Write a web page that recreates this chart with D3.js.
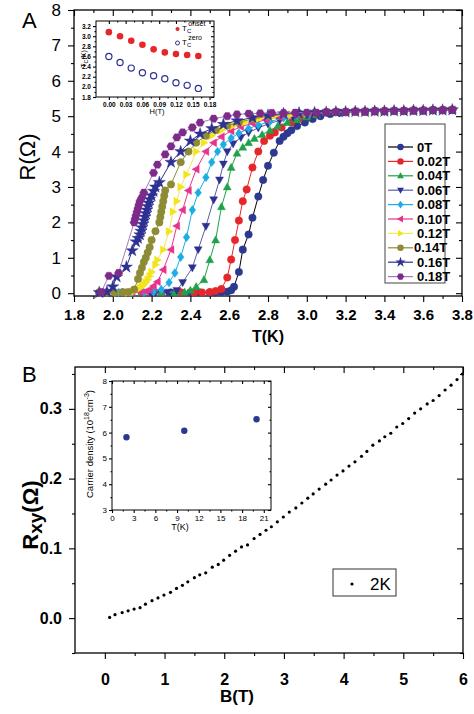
<!DOCTYPE html>
<html><head><meta charset="utf-8">
<script src="https://cdn.jsdelivr.net/npm/d3@7"></script>
<style>body{margin:0;background:#fff} svg{display:block} text{font-family:"Liberation Sans",Arial,Helvetica,sans-serif}</style>
</head><body><svg id="c" width="474" height="714"></svg>
<script>
// ---------- Panel A data ----------
const fieldLabels = ["0T","0.02T","0.04T","0.06T","0.08T","0.10T","0.12T","0.14T","0.16T","0.18T"];
const markerColors = ["#2b3990","#e5262b","#1fa149","#2e3192","#1cade4","#e6338d","#f4e41c","#8d8b35","#2e3192","#7d2b8b"];
const lineColors = ["#000000","#e5262b","#1fa149","#5a5fa8","#1cade4","#e6338d","#f2e65a","#8d8b35","#2e3192","#a57ab8"];
const shapes = ["circle","circle","up","down","diamond","left","right","circle","star","hexagon"];
const xTicksA = [1.8,2.0,2.2,2.4,2.6,2.8,3.0,3.2,3.4,3.6,3.8];
const yTicksA = [0,1,2,3,4,5,6,7,8];

const r00 = [[1.93,0.02],[2.05,0.02],[2.2,0.02],[2.3,0.02],[2.35,0.02],[2.40,0.02],[2.45,0.02],[2.50,0.02],[2.53,0.02],[2.56,0.03],[2.59,0.04],[2.61,0.08],[2.625,0.18],[2.65,0.6],[2.67,1.23],[2.70,1.66],[2.72,2.13],[2.75,2.73],[2.775,3.2],[2.80,3.6],[2.83,3.97],[2.86,4.3],[2.88,4.42],[2.90,4.52],[2.92,4.6],[2.95,4.72],[2.99,4.82],[3.03,4.92],[3.07,5.0],[3.12,5.06],[3.17,5.1]];
const r02 = [[1.95,0.02],[2.05,0.02],[2.15,0.02],[2.25,0.02],[2.35,0.02],[2.42,0.02],[2.46,0.02],[2.50,0.03],[2.53,0.06],[2.56,0.12],[2.59,0.44],[2.61,0.95],[2.63,1.5],[2.65,2.05],[2.67,2.6],[2.69,2.93],[2.72,3.55],[2.75,4.0],[2.78,4.3],[2.81,4.45],[2.835,4.54],[2.87,4.68],[2.92,4.82],[2.96,4.92],[3.0,5.0],[3.05,5.05]];
const r04 = [[1.95,0.02],[2.05,0.02],[2.15,0.02],[2.25,0.02],[2.32,0.02],[2.37,0.03],[2.40,0.08],[2.43,0.18],[2.47,0.38],[2.50,0.94],[2.53,1.5],[2.56,2.44],[2.59,3.0],[2.61,3.55],[2.64,3.95],[2.67,4.12],[2.70,4.25],[2.73,4.37],[2.77,4.48],[2.81,4.6],[2.85,4.72],[2.90,4.82],[2.95,4.9],[3.0,4.98],[3.05,5.04]];
const r06 = [[1.95,0.02],[2.05,0.02],[2.15,0.02],[2.22,0.02],[2.28,0.03],[2.33,0.08],[2.36,0.3],[2.41,0.72],[2.44,1.23],[2.48,1.89],[2.52,2.64],[2.55,3.2],[2.57,3.65],[2.59,4.0],[2.62,4.22],[2.66,4.4],[2.70,4.54],[2.75,4.67],[2.80,4.78],[2.86,4.88],[2.93,4.97],[3.0,5.03],[3.06,5.07]];
const r08 = [[1.95,0.02],[2.03,0.02],[2.10,0.02],[2.16,0.02],[2.21,0.04],[2.25,0.1],[2.29,0.3],[2.32,0.57],[2.35,1.02],[2.38,1.58],[2.41,2.35],[2.44,2.84],[2.48,3.27],[2.51,3.7],[2.54,4.0],[2.57,4.2],[2.61,4.38],[2.65,4.52],[2.70,4.65],[2.75,4.75],[2.81,4.85],[2.88,4.95],[2.95,5.02],[3.02,5.07]];
const r10 = [[1.95,0.02],[2.00,0.02],[2.05,0.02],[2.10,0.02],[2.14,0.03],[2.17,0.05],[2.19,0.1],[2.21,0.2],[2.23,0.32],[2.26,0.66],[2.30,1.23],[2.33,1.9],[2.36,2.35],[2.39,2.9],[2.43,3.5],[2.48,4.0],[2.52,4.25],[2.56,4.42],[2.61,4.58],[2.66,4.7],[2.72,4.8],[2.79,4.9],[2.86,4.98],[2.94,5.05],[3.02,5.08]];
const r12 = [[1.95,0.02],[2.02,0.02],[2.08,0.02],[2.10,0.03],[2.11,0.05],[2.12,0.08],[2.13,0.11],[2.14,0.15],[2.15,0.19],[2.16,0.24],[2.17,0.3],[2.18,0.38],[2.19,0.48],[2.20,0.6],[2.22,0.8],[2.23,0.94],[2.26,1.23],[2.29,1.74],[2.31,2.3],[2.33,2.6],[2.35,3.0],[2.38,3.35],[2.43,4.0],[2.47,4.25],[2.51,4.45],[2.56,4.6],[2.62,4.73],[2.68,4.83],[2.75,4.92],[2.83,5.0],[2.92,5.05],[3.0,5.08]];
const r14 = [[1.93,0.02],[1.97,0.02],[2.01,0.02],[2.05,0.02],[2.08,0.03],[2.11,0.1],[2.13,0.4],[2.14,0.57],[2.15,0.72],[2.16,0.88],[2.17,1.0],[2.18,1.15],[2.19,1.3],[2.20,1.5],[2.22,1.75],[2.24,2.0],[2.245,2.15],[2.25,2.3],[2.255,2.45],[2.26,2.6],[2.265,2.75],[2.27,2.9],[2.30,3.07],[2.35,3.7],[2.39,4.0],[2.43,4.25],[2.48,4.45],[2.53,4.6],[2.59,4.73],[2.65,4.83],[2.72,4.92],[2.80,5.0],[2.88,5.05],[2.96,5.08],[3.04,5.1]];
const r16 = [[1.93,0.02],[1.97,0.04],[2.00,0.18],[2.02,0.46],[2.07,0.74],[2.10,1.2],[2.12,1.45],[2.13,1.55],[2.14,1.65],[2.145,1.75],[2.15,1.85],[2.155,1.95],[2.16,2.05],[2.165,2.15],[2.17,2.25],[2.175,2.35],[2.18,2.45],[2.185,2.55],[2.19,2.65],[2.20,2.75],[2.21,2.88],[2.22,3.0],[2.24,3.13],[2.30,3.7],[2.35,4.0],[2.40,4.3],[2.45,4.5],[2.51,4.65],[2.57,4.77],[2.64,4.87],[2.72,4.96],[2.80,5.03],[2.88,5.07],[2.96,5.09],[3.04,5.1]];
const r18 = [[1.94,0.03],[1.98,0.49],[2.03,0.57],[2.11,2.0],[2.115,2.1],[2.12,2.2],[2.125,2.3],[2.13,2.4],[2.135,2.5],[2.14,2.6],[2.15,2.7],[2.16,2.84],[2.21,3.4],[2.23,3.63],[2.27,3.92],[2.30,4.15],[2.33,4.4],[2.36,4.54],[2.41,4.68],[2.45,4.82],[2.52,4.93],[2.59,5.0],[2.64,5.05],[2.70,5.07],[2.76,5.08],[2.82,5.09],[2.88,5.09],[2.94,5.1],[3.0,5.1],[3.05,5.1]];
const plateau = [[3.10,5.11],[3.15,5.12],[3.20,5.12],[3.25,5.13],[3.30,5.13],[3.35,5.14],[3.40,5.14],[3.45,5.15],[3.50,5.15],[3.55,5.16],[3.60,5.16],[3.65,5.17],[3.70,5.17],[3.75,5.18]];

// inset A
const hField = [0.00,0.02,0.04,0.06,0.08,0.10,0.12,0.14,0.16];
const tcOnset = [3.08,3.00,2.91,2.83,2.74,2.68,2.65,2.63,2.61];
const tcZero = [2.60,2.48,2.37,2.28,2.22,2.16,2.08,2.03,1.97];
const insetAxTicks = [0.00,0.03,0.06,0.09,0.12,0.15,0.18];
const insetAyTicks = [1.8,2.0,2.2,2.4,2.6,2.8,3.0,3.2];

// ---------- Panel B data ----------
const bField = [0.08,0.17,0.29,0.39,0.49,0.59,0.68,0.79,0.89,0.99,1.1,1.2,1.3,1.39,1.5,1.59,1.69,1.80,1.9,1.99,2.09,2.19,2.29,2.39,2.5,2.6,2.7,2.79,2.89,2.99,3.09,3.2,3.3,3.4,3.49,3.59,3.7,3.79,3.89,3.99,4.09,4.19,4.3,4.39,4.49,4.6,4.69,4.79,4.89,4.99,5.09,5.19,5.29,5.4,5.5,5.6,5.7,5.8,5.9,5.99];
const rxy = [0.001,0.005,0.008,0.0105,0.013,0.015,0.02,0.025,0.029,0.033,0.037,0.0426,0.047,0.052,0.058,0.062,0.065,0.073,0.077,0.083,0.09,0.096,0.102,0.105,0.114,0.12,0.126,0.131,0.138,0.145,0.152,0.158,0.165,0.172,0.178,0.185,0.192,0.198,0.205,0.211,0.218,0.224,0.232,0.239,0.248,0.254,0.26,0.265,0.274,0.279,0.286,0.294,0.30,0.307,0.312,0.319,0.327,0.334,0.342,0.350];
const xTicksB = [0,1,2,3,4,5,6];
const yTicksB = [0.0,0.1,0.2,0.3];
const carrierT = [2,10,20];
const carrierN = [5.82,6.07,6.52];
const insetBxTicks = [0,3,6,9,12,15,18,21];
const insetByTicks = [3,4,5,6,7,8];

// ---------- helpers ----------
const svg = d3.select("#c");
function symPath(shape, s){
  const P = pts => "M" + pts.map(p=>p[0].toFixed(2)+","+p[1].toFixed(2)).join("L") + "Z";
  switch(shape){
    case "circle": return d3.symbol(d3.symbolCircle, Math.PI*s*s*0.8)();
    case "up": return P([[0,-s],[s*0.95,s*0.7],[-s*0.95,s*0.7]]);
    case "down": return P([[0,s],[s*0.95,-s*0.7],[-s*0.95,-s*0.7]]);
    case "left": return P([[-s,0],[s*0.7,-s*0.95],[s*0.7,s*0.95]]);
    case "right": return P([[s,0],[-s*0.7,-s*0.95],[-s*0.7,s*0.95]]);
    case "diamond": return P([[0,-s*1.05],[s*0.8,0],[0,s*1.05],[-s*0.8,0]]);
    case "star": return d3.symbol(d3.symbolStar, s*s*2.6)();
    case "hexagon": return P(d3.range(6).map(i=>[s*Math.cos(Math.PI/3*i), s*Math.sin(Math.PI/3*i)]));
  }
}
function styleAxis(g, size, weight){
  g.select(".domain").remove();
  g.selectAll("line").attr("stroke","#000").attr("stroke-width",1.1);
  g.selectAll("text").attr("font-size",size).attr("font-weight",weight).attr("fill","#000")
   .style("font-family","'Liberation Sans',Arial,sans-serif");
}
function frameAxes(x, y, o){
  const [x0,x1] = x.range(), [y0,y1] = y.range(); // y0 bottom
  const g = svg.append("g");
  g.append("rect").attr("x",x0).attr("y",y1).attr("width",x1-x0).attr("height",y0-y1)
    .attr("fill",o.fill||"none").attr("stroke","#000").attr("stroke-width",o.sw||1.3);
  g.append("g").attr("transform",`translate(0,${y0})`)
    .call(d3.axisBottom(x).tickValues(o.xMajor).tickSize(o.tl).tickPadding(o.xPad).tickFormat(o.xFmt))
    .call(a=>styleAxis(a,o.xFont,o.xWeight));
  g.append("g").attr("transform",`translate(0,${y0})`)
    .call(d3.axisBottom(x).tickValues(o.xMinor).tickSize(o.tl/2).tickFormat(""))
    .call(a=>styleAxis(a,1,"normal"));
  g.append("g").attr("transform",`translate(0,${y1})`)
    .call(d3.axisTop(x).tickValues(o.xMajor).tickSize(-o.tl).tickFormat("")).call(a=>styleAxis(a,1,"normal"));
  g.append("g").attr("transform",`translate(0,${y1})`)
    .call(d3.axisTop(x).tickValues(o.xMinor).tickSize(-o.tl/2).tickFormat("")).call(a=>styleAxis(a,1,"normal"));
  g.append("g").attr("transform",`translate(${x0},0)`)
    .call(d3.axisLeft(y).tickValues(o.yMajor).tickSize(o.tl).tickPadding(o.yPad).tickFormat(o.yFmt))
    .call(a=>styleAxis(a,o.yFont,o.yWeight));
  g.append("g").attr("transform",`translate(${x0},0)`)
    .call(d3.axisLeft(y).tickValues(o.yMinor).tickSize(o.tl/2).tickFormat("")).call(a=>styleAxis(a,1,"normal"));
  g.append("g").attr("transform",`translate(${x1},0)`)
    .call(d3.axisRight(y).tickValues(o.yMajor).tickSize(-o.tl).tickFormat("")).call(a=>styleAxis(a,1,"normal"));
  g.append("g").attr("transform",`translate(${x1},0)`)
    .call(d3.axisRight(y).tickValues(o.yMinor).tickSize(-o.tl/2).tickFormat("")).call(a=>styleAxis(a,1,"normal"));
  return g;
}
const mid = a => a.slice(0,-1).map((v,i)=>(v+a[i+1])/2);

// ---------- Panel A ----------
const xA = d3.scaleLinear([1.8,3.8],[74,462]);
const yA = d3.scaleLinear([-0.08,8],[296,10]);
frameAxes(xA,yA,{xMajor:xTicksA,xMinor:mid(xTicksA),yMajor:yTicksA,yMinor:mid(yTicksA),tl:6,
  xPad:7,yPad:7,xFmt:d3.format(".1f"),yFmt:d3.format("d"),xFont:"15px",xWeight:"bold",yFont:"17px",yWeight:"normal"});

const seriesA = [r00,r02,r04,r06,r08,r10,r12,r14,r16,r18].map((d,i)=>({
  name:fieldLabels[i], color:markerColors[i], line:lineColors[i], shape:shapes[i],
  data:d.concat(plateau.filter(p=>p[0]>d[d.length-1][0]+0.02))
}));
const lineA = d3.line().x(d=>xA(d[0])).y(d=>yA(d[1]));
const plotA = svg.append("g");
seriesA.forEach(s=>{
  plotA.append("path").attr("d",lineA(s.data)).attr("fill","none").attr("stroke",s.line).attr("stroke-width",1);
  plotA.append("g").selectAll("path").data(s.data).join("path")
    .attr("transform",d=>`translate(${xA(d[0])},${yA(d[1])})`)
    .attr("d",symPath(s.shape,4.2)).attr("fill",s.color).attr("stroke",s.color).attr("stroke-width",0.4);
});

// legend A
const legA = svg.append("g");
legA.append("rect").attr("x",385).attr("y",124).attr("width",60).attr("height",159)
  .attr("fill","#fff").attr("stroke","#444").attr("stroke-width",1);
seriesA.forEach((s,i)=>{
  const yy = 147 + i*14.4;
  legA.append("line").attr("x1",388).attr("x2",413).attr("y1",yy).attr("y2",yy).attr("stroke",s.line).attr("stroke-width",1.2);
  legA.append("path").attr("transform",`translate(400.5,${yy})`).attr("d",symPath(s.shape,3.6)).attr("fill",s.color);
  legA.append("text").attr("x",i===7?414:417).attr("y",yy+4.5).attr("font-size","13px").attr("font-weight","bold").text(s.name);
});

// labels A
svg.append("text").attr("x",22).attr("y",28).attr("font-size","22px").text("A");
svg.append("text").attr("transform","translate(35,157) rotate(-90)").attr("text-anchor","middle").attr("font-size","22px").text("R(Ω)");
svg.append("text").attr("x",268).attr("y",342).attr("text-anchor","middle").attr("font-size","16px").attr("font-weight","bold").text("T(K)");

// inset A
const xI = d3.scaleLinear([-0.023,0.188],[96,214]);
const yI = d3.scaleLinear([1.8,3.3],[97,21]);
frameAxes(xI,yI,{xMajor:insetAxTicks,xMinor:mid(insetAxTicks),yMajor:insetAyTicks,yMinor:mid(insetAyTicks),tl:3,
  xPad:2,yPad:2,xFmt:d3.format(".2f"),yFmt:d3.format(".1f"),xFont:"6.5px",xWeight:"bold",yFont:"6.5px",yWeight:"bold",fill:"#fff",sw:1});
const insG = svg.append("g");
insG.selectAll(".on").data(hField).join("circle").attr("cx",d=>xI(d)).attr("cy",(d,i)=>yI(tcOnset[i])).attr("r",3.3).attr("fill","#e5262b");
insG.selectAll(".ze").data(hField).join("circle").attr("cx",d=>xI(d)).attr("cy",(d,i)=>yI(tcZero[i])).attr("r",3.1)
  .attr("fill","none").attr("stroke","#2e3192").attr("stroke-width",1.2);
insG.append("circle").attr("cx",177.5).attr("cy",29).attr("r",2).attr("fill","#e5262b");
insG.append("circle").attr("cx",177.5).attr("cy",43).attr("r",2).attr("fill","none").attr("stroke","#2e3192").attr("stroke-width",1);
[["onset",31],["zero",45]].forEach(([sup,yy])=>{
  const t = insG.append("text").attr("x",182).attr("y",yy).attr("font-size","8px");
  t.append("tspan").text("T");
  t.append("tspan").attr("font-size","6px").attr("dy",2).text("C");
  t.append("tspan").attr("font-size","7px").attr("dx",-3).attr("dy",-7).text(sup);
});
const tl = insG.append("text").attr("transform","translate(86,59) rotate(-90)").attr("text-anchor","middle").attr("font-size","7px");
tl.append("tspan").text("T"); tl.append("tspan").attr("font-size","5.5px").attr("dy",1.5).text("C"); tl.append("tspan").attr("dy",-1.5).text("(K)");
insG.append("text").attr("x",157).attr("y",114).attr("text-anchor","middle").attr("font-size","7.5px").text("H(T)");

// ---------- Panel B ----------
const xB = d3.scaleLinear([-0.5,6],[75,463]);
const yB = d3.scaleLinear([-0.05,0.36],[653,367]);
frameAxes(xB,yB,{xMajor:xTicksB,xMinor:mid(xTicksB),yMajor:yTicksB,yMinor:[-0.05,0.05,0.15,0.25,0.35],tl:6,
  xPad:15,yPad:7,xFmt:d3.format("d"),yFmt:d3.format(".1f"),xFont:"16px",xWeight:"bold",yFont:"16px",yWeight:"bold"});
svg.append("g").selectAll("circle").data(bField).join("circle")
  .attr("cx",d=>xB(d)).attr("cy",(d,i)=>yB(rxy[i])).attr("r",1.6).attr("fill","#000");

// legend B
svg.append("rect").attr("x",333).attr("y",569).attr("width",63).attr("height",27).attr("fill","#fff").attr("stroke","#333").attr("stroke-width",1);
svg.append("circle").attr("cx",352).attr("cy",584).attr("r",1.6).attr("fill","#000");
svg.append("text").attr("x",370).attr("y",590).attr("font-size","17px").text("2K");

// labels B
svg.append("text").attr("x",22).attr("y",382).attr("font-size","22px").text("B");
const yl = svg.append("text").attr("transform","translate(38,515) rotate(-90)").attr("text-anchor","middle").attr("font-size","22px").attr("font-weight","bold");
yl.append("tspan").text("R"); yl.append("tspan").attr("font-size","19px").attr("dy",4).text("xy");
yl.append("tspan").attr("dy",-4).text("(Ω)");
svg.append("text").attr("x",237).attr("y",702).attr("text-anchor","middle").attr("font-size","17px").attr("font-weight","bold").text("B(T)");

// inset B
const xIB = d3.scaleLinear([0,22],[112,271]);
const yIB = d3.scaleLinear([3,8],[510,381]);
frameAxes(xIB,yIB,{xMajor:insetBxTicks,xMinor:mid(insetBxTicks),yMajor:insetByTicks,yMinor:mid(insetByTicks),tl:3,
  xPad:2,yPad:2,xFmt:d3.format("d"),yFmt:d3.format("d"),xFont:"8px",xWeight:"normal",yFont:"8px",yWeight:"normal",fill:"#fff",sw:1});
svg.append("g").selectAll("circle").data(carrierT).join("circle")
  .attr("cx",d=>xIB(d)).attr("cy",(d,i)=>yIB(carrierN[i])).attr("r",3.2).attr("fill","#2b3990");
const cl = svg.append("text").attr("transform","translate(93,444) rotate(-90)").attr("text-anchor","middle").attr("font-size","9.5px");
cl.append("tspan").text("Carrier density (10");
cl.append("tspan").attr("font-size","7px").attr("dy",-4).text("18");
cl.append("tspan").attr("dy",4).text("cm");
cl.append("tspan").attr("font-size","7px").attr("dy",-4).text("-3");
cl.append("tspan").attr("dy",4).text(")");
svg.append("text").attr("x",180).attr("y",530).attr("text-anchor","middle").attr("font-size","9px").text("T(K)");
</script></body></html>
